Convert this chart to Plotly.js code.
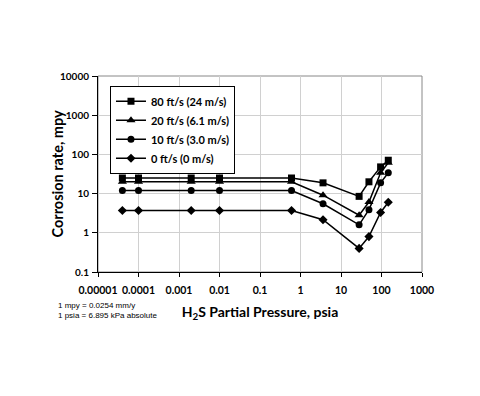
<!DOCTYPE html>
<html><head><meta charset="utf-8">
<script src="https://cdn.plot.ly/plotly-3.0.1.min.js"></script>
<style>body{margin:0;background:#fff}#chart{width:480px;height:396px}</style>
</head><body><div id="chart"></div>
<script>
const pressure = [0.00004, 0.0001, 0.002, 0.01, 0.6, 3.6, 28, 49, 95, 147];
const rate80 = [25, 25, 25, 25, 25, 18.8, 8.5, 20, 48, 71];
const rate20 = [20, 20, 20, 20, 20, 9.1, 2.8, 6.1, 34, 61];
const rate10 = [12, 12, 12, 12, 12, 5.5, 1.6, 3.9, 18.8, 34];
const rate0 = [3.7, 3.7, 3.7, 3.7, 3.7, 2.15, 0.4, 0.8, 3.3, 6.0];
const seriesNames = ['80 ft/s (24 m/s)', '20 ft/s (6.1 m/s)', '10 ft/s (3.0 m/s)', '0 ft/s (0 m/s)'];
const xTickVals = [0.00001, 0.0001, 0.001, 0.01, 0.1, 1, 10, 100, 1000];
const xTickText = ['0.00001', '0.0001', '0.001', '0.01', '0.1', '1', '10', '100', '1000'];
const yTickVals = [0.1, 1, 10, 100, 1000, 10000];
const yTickText = ['0.1', '1', '10', '100', '1000', '10000'];

const symbols = ['square', 'triangle-up', 'circle', 'diamond'];
const sizes = [7, 8, 7, 7];
const ys = [rate80, rate20, rate10, rate0];
const traces = ys.map((y, i) => ({
  x: pressure, y: y, name: seriesNames[i], type: 'scatter', mode: 'lines+markers',
  line: {color: '#000', width: 1.5},
  marker: {symbol: symbols[i], size: sizes[i], color: '#000'}
}));

const font = {family: 'Lato, "Open Sans", sans-serif', color: '#000'};
const layout = {
  width: 480, height: 396,
  margin: {l: 98, r: 58, t: 76, b: 124},
  paper_bgcolor: '#fff', plot_bgcolor: '#fff',
  font: font,
  showlegend: true,
  legend: {x: 0.037, y: 0.95, xanchor: 'left', yanchor: 'top', bgcolor: '#fff',
    bordercolor: '#000', borderwidth: 1, font: {family: font.family, size: 11, weight: 'bold', color: '#000'},
    tracegroupgap: 0, itemwidth: 30},
  xaxis: {type: 'log', range: [-5, 3], tickvals: xTickVals, ticktext: xTickText,
    showgrid: true, gridcolor: '#d0d0d0', gridwidth: 1,
    showline: true, linecolor: '#000', linewidth: 1, ticks: 'outside', ticklen: 4, tickcolor: '#000',
    ticklabelstandoff: 4,
    tickfont: {family: font.family, size: 10.5, weight: 'bold'}, zeroline: false,
    title: {text: 'H<sub>2</sub>S Partial Pressure, psia', font: {family: font.family, size: 14, weight: 'bold'}, standoff: 12}},
  yaxis: {type: 'log', range: [-1, 4], tickvals: yTickVals, ticktext: yTickText,
    showgrid: true, gridcolor: '#d0d0d0', gridwidth: 1,
    showline: true, linecolor: '#000', linewidth: 1, ticks: 'outside', ticklen: 5, tickcolor: '#000',
    ticklabelstandoff: 1,
    tickfont: {family: font.family, size: 10, weight: 'bold'}, zeroline: false},
  shapes: [{type: 'rect', xref: 'paper', yref: 'paper', x0: 0, x1: 1, y0: 0, y1: 1,
    line: {color: '#888', width: 1}, layer: 'below'}],
  annotations: [
    {xref: 'paper', yref: 'paper', x: -0.13, y: -0.14, xanchor: 'left', yanchor: 'top', showarrow: false,
     align: 'left', text: '1 mpy = 0.0254 mm/y<br>1 psia = 6.895 kPa absolute',
     font: {family: 'Arial, "Liberation Sans", sans-serif', size: 8, color: '#000'}},
    {xref: 'paper', yref: 'paper', x: -0.128, y: 0.5, xanchor: 'center', yanchor: 'middle', showarrow: false,
     textangle: -90, text: 'Corrosion rate, mpy',
     font: {family: font.family, size: 14.5, weight: 'bold', color: '#000'}}
  ]
};
Plotly.newPlot('chart', traces, layout, {displayModeBar: false, staticPlot: true});
</script></body></html>
